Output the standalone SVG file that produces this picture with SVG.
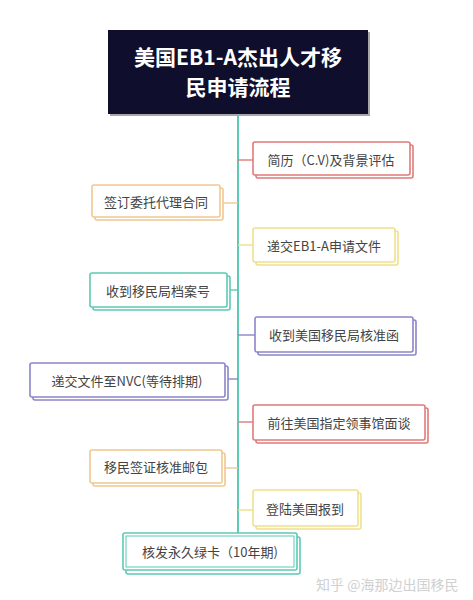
<svg xmlns="http://www.w3.org/2000/svg" width="473" height="600" viewBox="0 0 473 600">
<style>
text{font-family:"Noto Sans CJK SC","Noto Sans",sans-serif;}
.t{font-size:13px;fill:#444;text-anchor:middle;dominant-baseline:central;}
.title{font-size:21px;font-weight:bold;fill:#fff;text-anchor:middle;dominant-baseline:central;}
.box{fill:#fff;stroke-width:1.6;}
.red{stroke:#e07a7a;}
.org{stroke:#f0c890;}
.yel{stroke:#f0e08a;}
.tea{stroke:#5ccab4;}
.pur{stroke:#8a86c8;}
.ln{stroke:#5ccab4;stroke-width:2;fill:none;}
.cn{stroke-width:1.4;fill:none;}
</style>
<rect width="473" height="600" fill="#fff"/>
<g id="connectors">
<line class="ln" x1="238" y1="115" x2="238" y2="534"/>
<line class="cn red" x1="238" y1="160" x2="253" y2="160"/>
<line class="cn org" x1="222" y1="203" x2="238" y2="203"/>
<line class="cn yel" x1="238" y1="245" x2="253" y2="245"/>
<line class="cn tea" x1="227" y1="290" x2="238" y2="290"/>
<line class="cn pur" x1="238" y1="335" x2="255" y2="335"/>
<line class="cn pur" x1="225" y1="379" x2="238" y2="379"/>
<line class="cn red" x1="238" y1="422" x2="253" y2="422"/>
<line class="cn org" x1="222" y1="468" x2="238" y2="468"/>
<line class="cn yel" x1="238" y1="510" x2="253" y2="510"/>
</g>
<g id="title">
<rect x="110" y="32" width="260" height="84" fill="#a8a8a8"/>
<rect x="108" y="30" width="260" height="84" fill="#0f0e2c"/>
<text class="title" x="238" y="56">美国EB1-A杰出人才移</text>
<text class="title" x="238" y="86">民申请流程</text>
</g>
<g id="n1">
<rect class="box red" x="256" y="145" width="157" height="33" rx="2"/>
<rect class="box red" x="253" y="142" width="157" height="33" rx="2"/>
<text class="t" x="331" y="159">简历（C.V)及背景评估</text>
</g>
<g id="n2">
<rect class="box org" x="95" y="188" width="128" height="32" rx="2"/>
<rect class="box org" x="92" y="185" width="128" height="32" rx="2"/>
<text class="t" x="156" y="201">签订委托代理合同</text>
</g>
<g id="n3">
<rect class="box yel" x="256" y="231" width="142" height="34" rx="2"/>
<rect class="box yel" x="253" y="228" width="142" height="34" rx="2"/>
<text class="t" x="324" y="245">递交EB1-A申请文件</text>
</g>
<g id="n4">
<rect class="box tea" x="93" y="276" width="137" height="34" rx="2"/>
<rect class="box tea" x="90" y="273" width="137" height="34" rx="2"/>
<text class="t" x="158" y="290">收到移民局档案号</text>
</g>
<g id="n5">
<rect class="box pur" x="258" y="320" width="158" height="35" rx="2"/>
<rect class="box pur" x="255" y="317" width="158" height="35" rx="2"/>
<text class="t" x="334" y="334">收到美国移民局核准函</text>
</g>
<g id="n6">
<rect class="box pur" x="33" y="366" width="195" height="34" rx="2"/>
<rect class="box pur" x="30" y="363" width="195" height="34" rx="2"/>
<text class="t" x="127" y="380">递交文件至NVC(等待排期)</text>
</g>
<g id="n7">
<rect class="box red" x="256" y="408" width="172" height="35" rx="2"/>
<rect class="box red" x="253" y="405" width="172" height="35" rx="2"/>
<text class="t" x="339" y="422">前往美国指定领事馆面谈</text>
</g>
<g id="n8">
<rect class="box org" x="93" y="453" width="132" height="33" rx="2"/>
<rect class="box org" x="90" y="450" width="132" height="33" rx="2"/>
<text class="t" x="156" y="466">移民签证核准邮包</text>
</g>
<g id="n9">
<rect class="box yel" x="256" y="493" width="105" height="36" rx="2"/>
<rect class="box yel" x="253" y="490" width="105" height="36" rx="2"/>
<text class="t" x="305" y="508">登陆美国报到</text>
</g>
<g id="n10">
<rect class="box tea" x="126" y="537" width="174" height="37" rx="2" stroke-width="2.5"/>
<rect class="box tea" x="123" y="533" width="174" height="37" rx="2" stroke-width="2.5"/>
<rect x="126" y="536" width="168" height="31" fill="none" stroke="#5ccab4" stroke-width="1"/>
<text class="t" x="210" y="551">核发永久绿卡（10年期)</text>
</g>
<text x="316" y="584" font-size="14" fill="#d0d0d0" dominant-baseline="central">知乎 @海那边出国移民</text>
</svg>
